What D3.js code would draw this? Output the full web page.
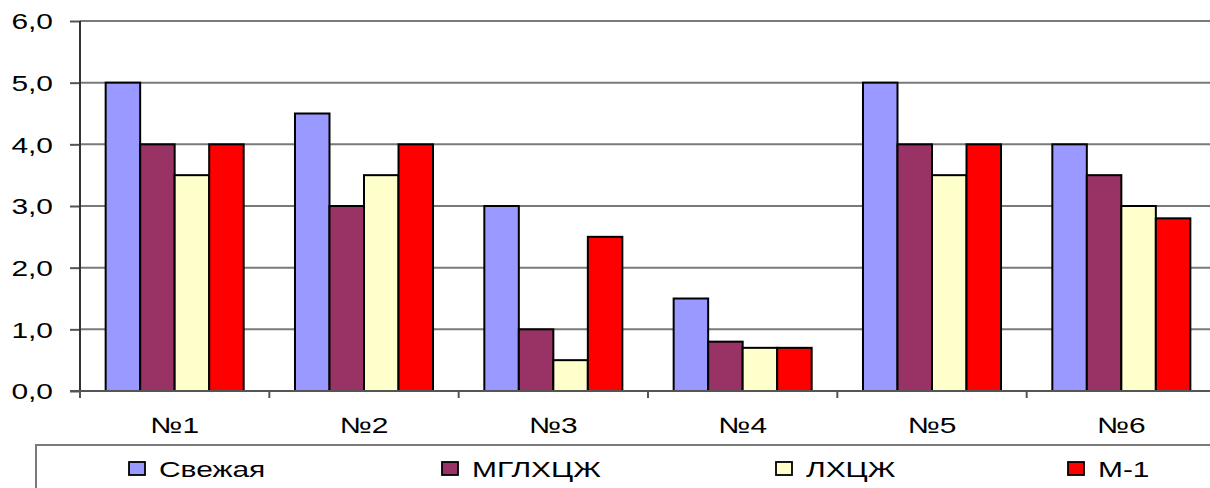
<!DOCTYPE html>
<html>
<head>
<meta charset="utf-8">
<script src="https://cdn.jsdelivr.net/npm/d3@7"></script>
<style>
  body { margin: 0; background: #fff; }
  text { font-family: "Liberation Sans", Arial, sans-serif; fill: #000; }
</style>
</head>
<body>
<script>
var w = 1210;
var h = 488;

// data
var categories = ["№1", "№2", "№3", "№4", "№5", "№6"];
var series = ["Свежая", "МГЛХЦЖ", "ЛХЦЖ", "М-1"];
var svezhaya = [5.0, 4.5, 3.0, 1.5, 5.0, 4.0];
var mglhczh  = [4.0, 3.0, 1.0, 0.8, 4.0, 3.5];
var lhczh    = [3.5, 3.5, 0.5, 0.7, 3.5, 3.0];
var m1       = [4.0, 4.0, 2.5, 0.7, 4.0, 2.8];
var yTicks = [0, 1, 2, 3, 4, 5, 6];

var colors = ["#9999FF", "#993366", "#FFFFCC", "#FF0000"];
var values = [svezhaya, mglhczh, lhczh, m1];
var stretch = 1.36; // text in the original is stretched horizontally
var fs = 22;

var plotL = 80, plotT = 21, plotR = 1216, plotB = 391;

var svg = d3.select("body")
            .append("svg")
                .attr("width", w)
                .attr("height", h);

var x = d3.scaleBand()
    .domain(categories)
    .range([plotL, plotR])
    .paddingInner(0.271)
    .paddingOuter(0.1355);

var xs = d3.scaleBand()
    .domain(series)
    .range([0, x.bandwidth()]);

var y = d3.scaleLinear()
    .domain([0, 6])
    .range([plotB, plotT]);

// grid lines
svg.selectAll("line.grid")
    .data(yTicks.filter(function(d) { return d > 0; }))
    .enter()
    .append("line")
        .attr("class", "grid")
        .attr("x1", plotL)
        .attr("x2", plotR)
        .attr("y1", function(d) { return y(d); })
        .attr("y2", function(d) { return y(d); })
        .attr("stroke", "#7a7a7a")
        .attr("stroke-width", 2);

// bars
var rows = categories.map(function(c, i) {
    return series.map(function(s, j) { return {cat: c, s: s, v: values[j][i], color: colors[j]}; });
});

svg.selectAll("g.cat")
    .data(rows)
    .enter()
    .append("g")
        .attr("transform", function(d, i) { return "translate(" + x(categories[i]) + ",0)"; })
    .selectAll("rect")
    .data(function(d) { return d; })
    .enter()
    .append("rect")
        .attr("x", function(d) { return xs(d.s); })
        .attr("y", function(d) { return y(d.v); })
        .attr("width", xs.bandwidth())
        .attr("height", function(d) { return y(0) - y(d.v); })
        .attr("fill", function(d) { return d.color; })
        .attr("stroke", "#000")
        .attr("stroke-width", 2);

// y axis
var yAxis = d3.axisLeft(y)
    .tickValues(yTicks)
    .tickSize(10)
    .tickPadding(0)
    .tickFormat(function(d) { return d3.format(".1f")(d).replace(".", ","); });

var ya = svg.append("g")
    .attr("transform", "translate(" + plotL + ",0)")
    .call(yAxis);
ya.select(".domain").remove();
ya.selectAll(".tick line").attr("stroke", "#555").attr("stroke-width", 2);
ya.selectAll(".tick text").remove();
ya.selectAll(".tick")
    .append("g")
        .attr("transform", "translate(-27,0) scale(" + stretch + ",1)")
    .append("text")
        .attr("text-anchor", "end")
        .attr("dy", "0.36em")
        .attr("font-size", fs)
        .text(function(d) { return d3.format(".1f")(d).replace(".", ","); });

svg.append("line")
    .attr("x1", plotL).attr("x2", plotL)
    .attr("y1", plotT).attr("y2", plotB + 6)
    .attr("stroke", "#333")
    .attr("stroke-width", 2);

// x axis
svg.append("line")
    .attr("x1", plotL - 10).attr("x2", plotR)
    .attr("y1", plotB).attr("y2", plotB)
    .attr("stroke", "#555")
    .attr("stroke-width", 2);

svg.selectAll("line.xtick")
    .data(d3.range(categories.length + 1))
    .enter()
    .append("line")
        .attr("class", "xtick")
        .attr("x1", function(i) { return plotL + i * x.step(); })
        .attr("x2", function(i) { return plotL + i * x.step(); })
        .attr("y1", plotB)
        .attr("y2", plotB + 7)
        .attr("stroke", "#555")
        .attr("stroke-width", 2);

svg.selectAll("g.xlabel")
    .data(categories)
    .enter()
    .append("g")
        .attr("transform", function(d) {
            return "translate(" + (x(d) + x.bandwidth() / 2) + ",433) scale(" + stretch + ",1)";
        })
    .append("text")
        .attr("text-anchor", "middle")
        .attr("font-size", fs)
        .text(function(d) { return d; });

// legend
svg.append("rect")
    .attr("x", 36)
    .attr("y", 445)
    .attr("width", 1200)
    .attr("height", 80)
    .attr("fill", "none")
    .attr("stroke", "#7a7a7a")
    .attr("stroke-width", 2);

var legendX = [129, 442, 776, 1068];

var lg = svg.selectAll("g.legend")
    .data(series)
    .enter()
    .append("g")
        .attr("transform", function(d, i) { return "translate(" + legendX[i] + ",0)"; });

lg.append("rect")
    .attr("x", 0)
    .attr("y", 462)
    .attr("width", 16)
    .attr("height", 13)
    .attr("fill", function(d, i) { return colors[i]; })
    .attr("stroke", "#000")
    .attr("stroke-width", 1.8);

lg.append("g")
    .attr("transform", "translate(30,477) scale(" + stretch + ",1)")
  .append("text")
    .attr("font-size", fs)
    .text(function(d) { return d; });
</script>
</body>
</html>
